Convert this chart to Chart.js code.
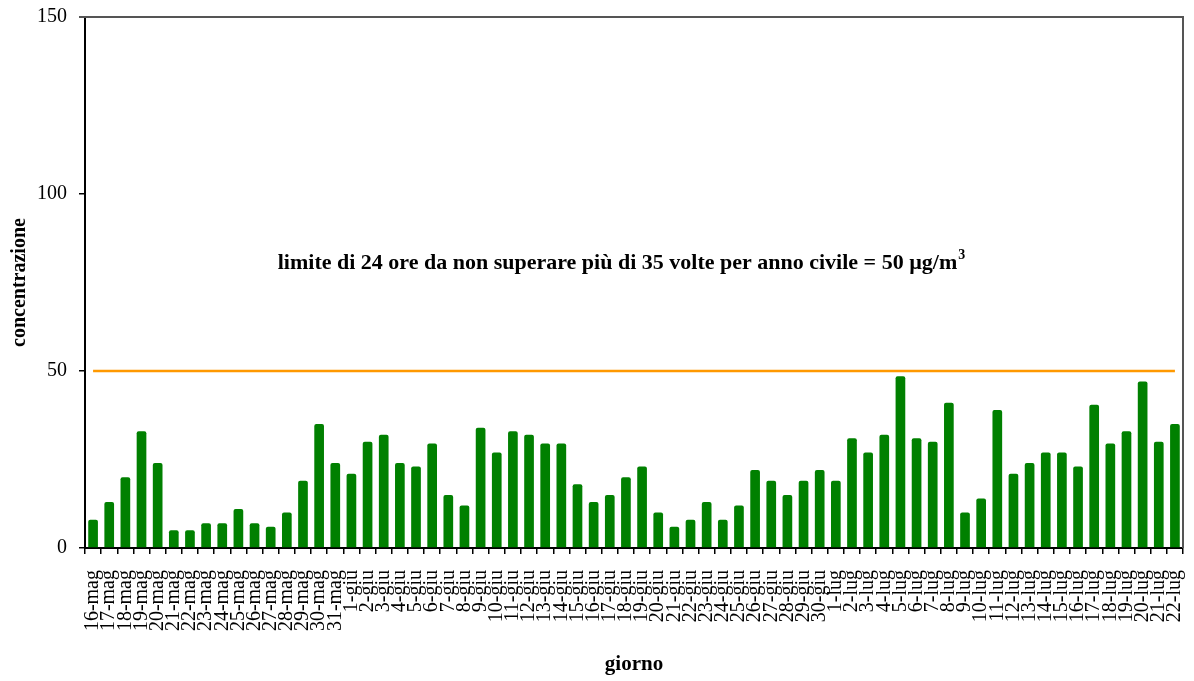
<!DOCTYPE html>
<html>
<head>
<meta charset="utf-8">
<script src="https://cdn.jsdelivr.net/npm/chart.js@4"></script>
<style>
  html, body { margin: 0; padding: 0; background: #fff; }
  #wrap { width: 1194px; height: 681px; }
</style>
</head>
<body>
<div id="wrap"><canvas id="chart" width="1194" height="681"></canvas></div>
<script>
const giorni = [
  "16-mag", "17-mag", "18-mag", "19-mag", "20-mag", "21-mag", "22-mag", "23-mag",
  "24-mag", "25-mag", "26-mag", "27-mag", "28-mag", "29-mag", "30-mag", "31-mag",
  "1-giu", "2-giu", "3-giu", "4-giu", "5-giu", "6-giu", "7-giu", "8-giu", "9-giu",
  "10-giu", "11-giu", "12-giu", "13-giu", "14-giu", "15-giu", "16-giu", "17-giu",
  "18-giu", "19-giu", "20-giu", "21-giu", "22-giu", "23-giu", "24-giu", "25-giu",
  "26-giu", "27-giu", "28-giu", "29-giu", "30-giu",
  "1-lug", "2-lug", "3-lug", "4-lug", "5-lug", "6-lug", "7-lug", "8-lug", "9-lug",
  "10-lug", "11-lug", "12-lug", "13-lug", "14-lug", "15-lug", "16-lug", "17-lug",
  "18-lug", "19-lug", "20-lug", "21-lug", "22-lug"
];

const concentrazione = [
  8, 13, 20, 33, 24, 5, 5, 7, 7, 11, 7, 6, 10, 19, 35, 24,
  21, 30, 32, 24, 23, 29.5, 15, 12, 34, 27, 33, 32, 29.5, 29.5, 18, 13, 15,
  20, 23, 10, 6, 8, 13, 8, 12, 22, 19, 15, 19, 22,
  19, 31, 27, 32, 48.5, 31, 30, 41, 10, 14, 39, 21, 24, 27, 27, 23, 40.5,
  29.5, 33, 47, 30, 35
];

const limite = giorni.map(() => 50);
const yTicks = [0, 50, 100, 150];

const serif = "'Liberation Serif', 'Times New Roman', serif";

// top and right frame of the plot area
const frame = {
  id: "frame",
  afterDraw(chart) {
    const { ctx, chartArea: a } = chart;
    ctx.save();
    ctx.strokeStyle = "#555555";
    ctx.lineWidth = 2;
    ctx.beginPath();
    ctx.moveTo(a.left - 6, a.top);
    ctx.lineTo(a.right, a.top);
    ctx.lineTo(a.right, a.bottom);
    ctx.stroke();
    ctx.restore();
  }
};

// note about the daily limit
const nota = {
  id: "nota",
  afterDraw(chart) {
    const { ctx, chartArea: a, scales } = chart;
    const main = "limite di 24 ore da non superare più di 35 volte per anno civile = 50 µg/m";
    ctx.save();
    ctx.fillStyle = "#000";
    ctx.font = "bold 22px " + serif;
    const w = ctx.measureText(main).width;
    ctx.font = "bold 14px " + serif;
    const ws = ctx.measureText("3").width;
    const cx = (a.left + a.right) / 2 - 13;
    const y = scales.y.getPixelForValue(80.5);
    const x0 = cx - (w + ws) / 2;
    ctx.textBaseline = "middle";
    ctx.textAlign = "left";
    ctx.font = "bold 22px " + serif;
    ctx.fillText(main, x0, y);
    ctx.font = "bold 14px " + serif;
    ctx.fillText("3", x0 + w + 1, y - 8);
    ctx.restore();
  }
};

new Chart(document.getElementById("chart"), {
  data: {
    labels: giorni,
    datasets: [
      {
        type: "line",
        label: "limite",
        data: limite,
        borderColor: "#FF9900",
        borderWidth: 2.5,
        pointRadius: 0,
        order: 0
      },
      {
        type: "bar",
        label: "concentrazione",
        data: concentrazione,
        backgroundColor: "#008000",
        borderWidth: 0,
        borderRadius: 2,
        categoryPercentage: 1,
        barPercentage: 0.6,
        order: 1
      }
    ]
  },
  options: {
    responsive: false,
    animation: false,
    layout: { padding: { top: 17, right: 11, left: 0, bottom: 0 } },
    plugins: {
      legend: { display: false },
      tooltip: { enabled: false }
    },
    scales: {
      x: {
        offset: true,
        afterFit(scale) {
          scale.height = 133;
          scale.paddingLeft = 0;
          scale.paddingRight = 0;
        },
        grid: {
          offset: true,
          drawOnChartArea: false,
          drawTicks: true,
          tickLength: 6,
          color: "#000",
          lineWidth: 1.5
        },
        border: { color: "#000", width: 2 },
        ticks: {
          autoSkip: false,
          minRotation: 90,
          maxRotation: 90,
          padding: 16,
          color: "#000",
          font: { family: serif, size: 20 }
        },
        title: {
          display: true,
          text: "giorno",
          color: "#000",
          padding: { top: 0, bottom: 4 },
          font: { family: serif, size: 21, weight: "bold" }
        }
      },
      y: {
        min: 0,
        max: 150,
        afterFit(scale) {
          scale.width = 85;
          scale.paddingTop = 0;
          scale.paddingBottom = 0;
        },
        afterBuildTicks(scale) { scale.ticks = yTicks.map(v => ({ value: v })); },
        grid: {
          drawOnChartArea: false,
          drawTicks: true,
          tickLength: 6,
          color: "#000",
          lineWidth: 1.5
        },
        border: { color: "#000", width: 2 },
        ticks: {
          padding: 12,
          color: "#000",
          font: { family: serif, size: 20 }
        },
        title: {
          display: true,
          text: "concentrazione",
          color: "#000",
          padding: { top: 8, bottom: 0 },
          font: { family: serif, size: 20, weight: "bold" }
        }
      }
    }
  },
  plugins: [frame, nota]
});
</script>
</body>
</html>
